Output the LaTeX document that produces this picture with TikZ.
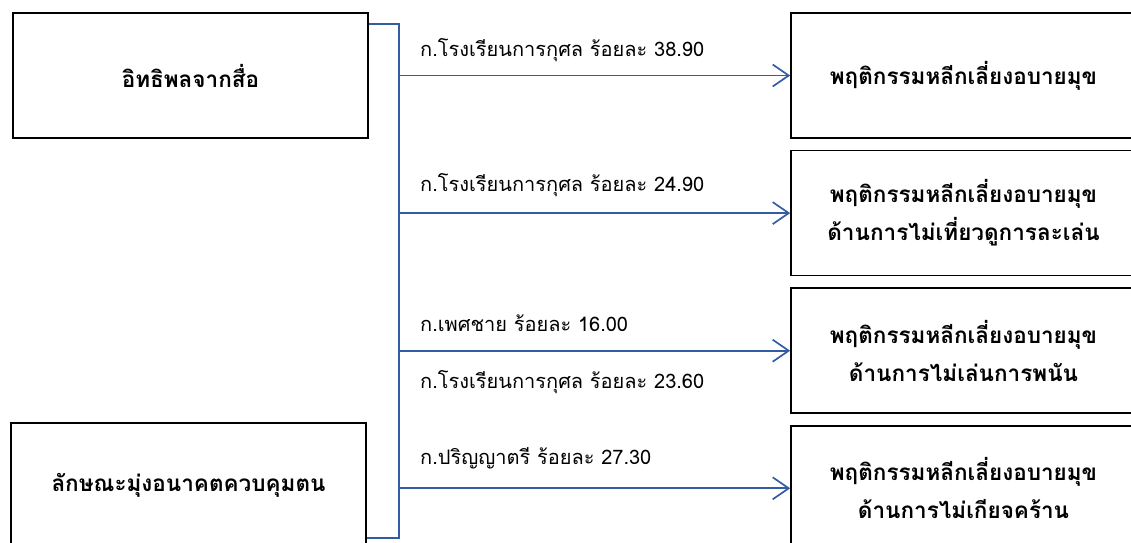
\documentclass[tikz,border=0pt]{standalone}
\usepackage{fontspec}
\newfontfamily\thaifont[Script=Thai]{Loma}
\usetikzlibrary{positioning, arrows.meta}
\definecolor{linkblue}{RGB}{52,92,164}

\begin{document}
\begin{tikzpicture}[
    x=1pt, y=-1pt,
    node distance=11pt,
    every node/.style={align=center, font=\thaifont},
    srcbox/.style={draw, line width=1.6pt, minimum width=355pt, minimum height=125pt,
        inner sep=0pt, font=\thaifont\bfseries\fontsize{22.5}{38}\selectfont},
    outbox/.style={srcbox, minimum width=345pt},
    lbl/.style={anchor=west, inner sep=0pt, font=\thaifont\fontsize{20}{24}\selectfont},
    link/.style={draw=linkblue, line width=1.7pt},
    >={Straight Barb[length=16pt,width=22pt,line width=1.7pt]}
]
    \useasboundingbox (0,0) rectangle (1131,542);
    \clip (0,0) rectangle (1131,542);

    \def\trunkX{399}

    % causes on the left
    \node[srcbox] (media) at (190.5,75.5) {อิทธิพลจากสื่อ};
    \node[srcbox] (trait) at (188.5,485.5) {ลักษณะมุ่งอนาคตควบคุมตน};

    % behaviours on the right
    \node[outbox] (beh1) at (963.5,75.5) {พฤติกรรมหลีกเลี่ยงอบายมุข};
    \node[outbox, below=of beh1] (beh2) {พฤติกรรมหลีกเลี่ยงอบายมุข\\ด้านการไม่เที่ยวดูการละเล่น};
    \node[outbox, below=of beh2] (beh3) {พฤติกรรมหลีกเลี่ยงอบายมุข\\ด้านการไม่เล่นการพนัน};
    \node[outbox, below=of beh3] (beh4) {พฤติกรรมหลีกเลี่ยงอบายมุข\\ด้านการไม่เกียจคร้าน};

    % bracket joining both causes
    \coordinate (trunkTop) at (\trunkX,24);
    \coordinate (trunkBot) at (\trunkX,538);
    \draw[link] (media.east |- trunkTop) -- (trunkTop) -- (trunkBot) -- (trait.east |- trunkBot);

    \foreach \n in {1,...,4}{
        \draw[link, ->] (trunkTop |- beh\n.west) -- (beh\n.west);
    }

    % labels on the arrows
    \node[lbl] (lab1) at (420,50) {ก.โรงเรียนการกุศล ร้อยละ 38.90};
    \node[lbl] (lab2) at (420,185) {ก.โรงเรียนการกุศล ร้อยละ 24.90};
    \node[lbl] (lab3) at (420,323) {ก.เพศชาย ร้อยละ 16.00};
    \node[lbl] (lab4) at (420,382) {ก.โรงเรียนการกุศล ร้อยละ 23.60};
    \node[lbl] (lab5) at (420,458) {ก.ปริญญาตรี ร้อยละ 27.30};
\end{tikzpicture}
\end{document}
